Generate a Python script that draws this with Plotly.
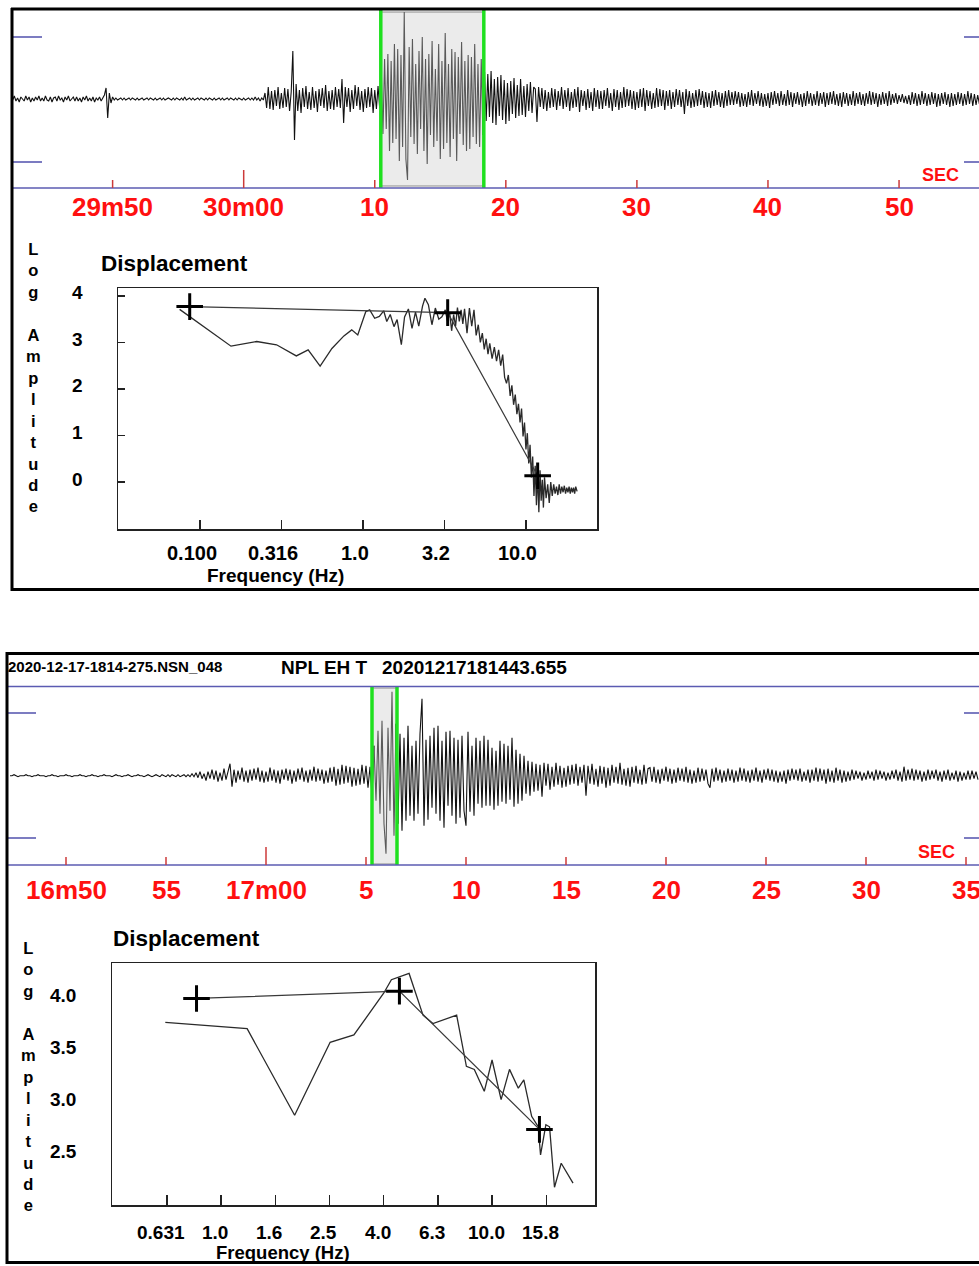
import math
import plotly.graph_objects as go

W, H = 979, 1266
FONT = "Liberation Sans, Arial, sans-serif"

# ---------------- data ----------------
# upper seismogram (time in s relative to 30m00, amplitude in counts)
top_t0 = -17.75
top_dt = 0.125
top_trace = [
    2, -1, 3, -2, 1, -3, 2, 0, -2, 3, -1, 2, -3, 1, -2, 2, -1, 3, -2, 1, -2, 3, -1, -2, 2, -3, 1, 2, -2, 3, -1, 1, -3, 2, -1, 3, -2, 0, 2, -2,
    2, -2, 1, -3, 2, -1, 3, -2, 1, -2, 2, -3, 1, -1, 2, -2, 1, 4, 11, -19, 6, -4, 2, -1, 1, -1, 0, 1, -1, 1, -1, 0, 1, -1, 1, 0, -1, 1, -1, 0,
    1, -1, 0, 1, -1, 1, 0, -1, 1, -1, 0, 1, -1, 1, -1, 0, 1, 0, -1, 1, -1, 1, 0, -1, 1, -1, 2, -1, 0, 1, -1, 1, -1, 0, 1, -1, 1, 0, -1, 1,
    -1, 1, 0, -1, 1, -1, 0, 1, -1, 1, -1, 0, 1, -1, 1, 0, -1, 1, -1, 1, 0, -1, 1, -1, 0, 1, -1, 1, -1, 2, -1, 1, -2, 1, -1, 6, -9, 12, -10, 8,
    -11, 9, -7, 12, -10, 6, -9, 11, -8, 10, -12, 7, 48, -41, 15, -12, 9, -14, 11, -8, 13, -10, 7, -11, 12, -9, 8, -13, 10, -7, 11, -9, 14, -12, 8, -10, 9, -11, 12, -8,
    10, -9, 20, -24, 12, -8, 11, -13, 9, -10, 14, -7, 12, -11, 8, -13, 10, -9, 12, -8, 11, -14, 9, -10, 13, -9, 28, -35, 40, -30, 45, -52, 38, -44, 55, -40, 50, -62, 44, -48,
    87, -60, -81, 52, -38, 60, -45, 35, -55, 48, -30, 62, -52, 40, -65, 45, -36, 58, -48, 30, -42, 55, -60, 38, -50, 66, -44, 35, -58, 50, -40, 47, -62, 42, -35, 57, -46, 38, -52, 44,
    -50, 42, -38, 55, -45, 35, -48, 40, -36, 27, -22, 25, -18, 28, -24, 20, -26, 22, -17, 24, -21, 19, -25, 16, -22, 18, -15, 21, -19, 14, -17, 20, -16, 13, -18, 15, -12, 17, -14, 12,
    10, -23, 12, -8, 11, -10, 9, -12, 7, -9, 11, -8, 10, -11, 8, -7, 12, -10, 9, -8, 11, -12, 7, -9, 10, -8, 12, -13, 9, -7, 8, -11, 10, -9, 7, -12, 11, -8, 9, -10,
    8, -10, 9, -7, 11, -9, 6, -12, 10, -8, 9, -11, 7, -9, 12, -8, 10, -7, 9, -10, 8, -11, 7, -9, 10, -8, 11, -12, 9, -7, 8, -10, 6, -9, 11, -8, 10, -7, 9, -11,
    8, -7, 9, -10, 7, -8, 10, -6, 9, -8, 7, -15, 10, -7, 8, -9, 6, -8, 9, -7, 10, -6, 8, -9, 7, -8, 6, -9, 8, -7, 9, -6, 7, -8, 6, -9, 8, -7, 9, -6,
    7, -6, 8, -5, 7, -8, 6, -7, 5, -8, 7, -6, 9, -7, 6, -5, 8, -7, 6, -8, 5, -7, 6, -9, 7, -6, 8, -5, 6, -7, 8, -6, 5, -7, 9, -6, 7, -8, 6, -5,
    7, -6, 5, -8, 6, -7, 8, -5, 6, -7, 5, -6, 8, -7, 6, -5, 7, -8, 6, -6, 7, -5, 8, -6, 5, -7, 6, -8, 7, -5, 6, -7, 5, -6, 8, -7, 6, -5, 7, -6,
    5, -7, 6, -5, 8, -6, 7, -5, 6, -8, 5, -6, 7, -5, 6, -7, 8, -6, 5, -4, 6, -5, 4, -3, 5, -4, 3, -5, 4, -6, 7, -5, 6, -7, 5, -6, 8, -5, 6, -7,
    5, -6, 7, -5, 6, -8, 5, -7, 6, -5, 7, -6, 5, -8, 6, -7, 5, -6, 7, -5, 6, -7, 5, -6, 8, -5, 6, -7, 5, -6, 4, -5,
]
top_window = [10.46, 18.32]
top_tick_vals = [-10, 0, 10, 20, 30, 40, 50]
top_tick_text = ["29m50", "30m00", "10", "20", "30", "40", "50"]

# lower seismogram (time in s relative to 17m00)
bot_t0 = -12.8
bot_dt = 0.1
bot_trace = [
    0, 0, 1, 0, -1, 0, 0, 0, 1, 0, 0, -1, 0, 0, 1, 0, 0, 0, -1, 0, 0, 1, 0, 0, -1, 0, 0, 0, 1, 0, 0, -1, 0, 0, 0, 1, 0, 0, -1, 0,
    0, 1, 0, 0, -1, 0, 0, 1, 0, 0, 0, -1, 0, 1, 0, 0, -1, 0, 0, 1, 0, -1, 0, 0, 1, 0, 0, -1, 0, 1, 0, -1, 0, 1, 0, -1, 1, 0, -1, 1,
    -1, 1, 0, -1, 1, -1, 0, 1, -1, 1, -1, 2, -1, 3, -2, 4, -3, 2, -5, 4, -3, 6, -4, 5, -6, 3, -5, 7, -4, 5, 12, -11, 6, -7, 5, -4, 8, -6, 5, -7,
    6, -5, 7, -4, 8, -6, 5, -7, 4, -6, 8, -5, 6, -7, 5, -8, 6, -4, 7, -5, 6, -8, 5, -6, 7, -4, 8, -6, 5, -7, 6, -5, 9, -6, 7, -5, 6, -8, 5, -7,
    8, -6, 9, -10, 7, -9, 11, -8, 10, -7, 9, -11, 8, -10, 7, -9, 11, -8, 10, -12, 9, -20, 30, -25, 45, -38, 55, -48, -78, 48, -35, 84, -60, 52, -48, 42, -55, 38, -45, 50,
    -40, 30, -45, 35, -38, 42, 77, -50, 36, -44, 40, -32, 48, -38, 50, -45, 35, -52, 44, -30, 45, -40, 38, -48, 36, -42, 40, -35, -50, 44, -36, 30, -40, 38, -28, 35, -32, 40, -30, 36,
    -30, 28, -34, 25, -30, 35, -26, 32, -28, 30, -24, 38, -31, 26, -28, 22, -25, 20, -18, 15, -20, 14, -16, 12, -15, 11, -21, 13, -10, 12, -14, 9, -11, 13, -9, 10, -12, 8, -11, 10,
    -9, 11, -8, 12, -10, 9, -7, 11, -20, 10, -8, 12, -9, 7, -11, 10, -8, 9, -12, 8, -10, 11, -7, 9, -8, 13, -9, 7, -10, 8, -11, 9, -7, 10, -8, 6, -9, 11, -8, 7,
    8, -6, 9, -7, 6, -8, 7, -5, 9, -6, 7, -8, 6, -7, 8, -5, 7, -6, 9, -7, 6, -8, 5, -7, 8, -6, 7, -5, 6, -8, -12, 7, -6, 8, -5, 6, -7, 5, -6, 7,
    -5, 6, -7, 5, -6, 8, -5, 7, -6, 5, -7, 6, -5, 8, -6, 5, -7, 6, -4, 7, -5, 6, -6, 5, -7, 4, -6, 5, -8, 6, -5, 7, -4, 6, -5, 7, -6, 4, -5, 6,
    -7, 6, -5, 8, -6, 7, -5, 6, -8, 7, -6, 5, -7, 8, -5, 6, -7, 5, -6, 4, -5, 6, -4, 5, -3, 4, -5, 3, -4, 5, -3, 4, -5, 6, -4, 5, -3, 4, -5, 3,
    -4, 5, -3, 6, -5, 4, -6, 9, -5, 6, -4, 7, -5, 6, -4, 5, -6, 4, -5, 6, -4, 5, -3, 6, -5, 4, -6, 5, -4, 6, -5, 3, -4, 5, -6, 4, -5, 3, -4, 5,
    -4, 5, -3, 4, -4,
]
bot_window = [5.3, 6.55]
bot_tick_vals = [-10, -5, 0, 5, 10, 15, 20, 25, 30, 35]
bot_tick_text = ["16m50", "55", "17m00", "5", "10", "15", "20", "25", "30", "35"]

# upper displacement spectrum
spec1_freq = [
    0.075, 0.155, 0.223, 0.295, 0.39, 0.461, 0.546, 0.645, 0.764, 0.853, 0.929,
    1.04, 1.10, 1.18, 1.26, 1.34, 1.40, 1.47, 1.55, 1.62, 1.72, 1.80, 1.90,
    2.00, 2.10, 2.20, 2.32, 2.40, 2.52, 2.65, 2.78, 2.92, 3.05, 3.20, 3.30,
    3.40, 3.50, 3.60, 3.70, 3.80, 3.90, 4.00, 4.10, 4.20, 4.35, 4.50, 4.65,
    4.80, 4.95, 5.10, 5.25, 5.40, 5.55, 5.70, 5.85, 6.00, 6.20, 6.40, 6.60,
    6.80, 7.00, 7.20, 7.40, 7.60, 7.80, 8.00, 8.20, 8.40, 8.60, 8.80, 9.00,
    9.20, 9.40, 9.60, 9.80, 10.0, 10.2, 10.4, 10.6, 10.8, 11.0, 11.2, 11.4,
    11.6, 11.8, 12.0, 12.2, 12.4, 12.6, 12.8, 13.0, 13.3, 13.6, 13.9, 14.2,
    14.5, 14.8, 15.1, 15.4, 15.7, 16.0, 16.3, 16.6, 16.9, 17.2, 17.5, 17.8,
    18.1, 18.4, 18.7, 19.0, 19.3, 19.6, 19.9, 20.2, 20.6,
]
spec1_amp = [
    3.71, 2.92, 3.02, 2.95, 2.71, 2.84, 2.49, 2.87, 3.14, 3.27, 3.16,
    3.66, 3.70, 3.52, 3.56, 3.68, 3.45, 3.60, 3.34, 3.49, 2.95, 3.55, 3.72,
    3.30, 3.65, 3.35, 3.78, 3.95, 3.81, 3.38, 3.74, 3.50, 3.55, 3.70, 3.45,
    3.65, 3.25, 3.60, 3.35, 3.75, 3.45, 3.70, 3.40, 3.72, 3.20, 3.74, 3.35,
    3.70, 3.15, 3.38, 3.00, 3.20, 2.85, 3.08, 2.75, 2.98, 2.65, 2.90, 2.60,
    2.84, 2.50, 2.74, 2.25, 2.12, 2.30, 1.85, 2.08, 1.66, 1.88, 1.46, 1.68,
    1.28, 1.58, 0.98, 1.28, 0.70, 1.05, 0.40, 0.80, 0.10, 0.55, -0.30, 0.35,
    -0.50, 0.20, -0.65, 0.25, -0.40, 0.05, -0.55, 0.10, -0.35, -0.05, -0.45, 0.00,
    -0.30, -0.05, -0.25, -0.10, -0.28, -0.05, -0.25, -0.10, -0.22, -0.08, -0.25, -0.12,
    -0.22, -0.10, -0.25, -0.12, -0.22, -0.12, -0.25, -0.10, -0.20,
]
spec1_fit_freq = [0.0865, 3.31, 11.8]
spec1_fit_amp = [3.77, 3.64, 0.135]
spec1_xticks = [0.1, 0.316, 1.0, 3.16, 10.0]
spec1_xtick_text = ["0.100", "0.316", "1.0", "3.2", "10.0"]
spec1_yticks = [0, 1, 2, 3, 4]

# lower displacement spectrum
spec2_freq = [0.622, 1.247, 1.867, 2.525, 3.09, 3.65, 3.98, 4.25, 4.55, 4.94, 5.56,
              6.05, 7.40, 8.04, 8.60, 9.36, 10.0, 10.8, 11.6, 12.5, 13.1, 14.0,
              14.8, 15.1, 15.8, 16.3, 17.0, 18.0, 19.9]
spec2_amp = [3.74, 3.68, 2.85, 3.55, 3.62, 3.88, 4.02, 4.15, 4.18, 4.21, 3.81,
             3.73, 3.81, 3.32, 3.29, 3.08, 3.38, 3.00, 3.29, 3.11, 3.19, 2.84,
             2.74, 2.47, 2.76, 2.74, 2.16, 2.39, 2.20]
spec2_fit_freq = [0.811, 4.55, 14.96]
spec2_fit_amp = [3.97, 4.04, 2.715]
spec2_xticks = [0.631, 1.0, 1.585, 2.512, 3.981, 6.31, 10.0, 15.85]
spec2_xtick_text = ["0.631", "1.0", "1.6", "2.5", "4.0", "6.3", "10.0", "15.8"]
spec2_yticks = [2.5, 3.0, 3.5, 4.0]
spec2_ytick_text = ["2.5", "3.0", "3.5", "4.0"]

station_file = "2020-12-17-1814-275.NSN_048"
station_chan = "NPL EH T"
station_time = "20201217181443.655"


# ---------------- helpers ----------------
def px(x):
    return x / W


def py(y):
    return 1 - y / H


BLUE = "#5b5bb2"
GREEN = "#1fe01f"
RED_TICK = "#cc3a3a"
RED = "#ff1010"

fig = go.Figure()
shapes = []
annotations = []


def ann(text, x, y, size, color="black", xref="paper", yref="paper",
        xanchor="center", yanchor="middle", **kw):
    annotations.append(dict(text=text, x=x, y=y, xref=xref, yref=yref,
                            showarrow=False, xanchor=xanchor, yanchor=yanchor,
                            font=dict(family=FONT, size=size, color=color), **kw))


def hline(y, x0, x1, color, width):
    shapes.append(dict(type="line", xref="paper", yref="paper", x0=px(x0), x1=px(x1),
                       y0=py(y), y1=py(y), line=dict(color=color, width=width)))


def vline(x, y0, y1, color, width):
    shapes.append(dict(type="line", xref="paper", yref="paper", x0=px(x), x1=px(x),
                       y0=py(y0), y1=py(y1), line=dict(color=color, width=width)))


def add_seismo(values, t0, dt, window, xa, ya):
    times = [t0 + dt * i for i in range(len(values))]
    pre = [(t, v) for t, v in zip(times, values) if t <= window[0] + dt]
    win = [(t, v) for t, v in zip(times, values) if window[0] - dt <= t <= window[1] + dt]
    post = [(t, v) for t, v in zip(times, values) if t >= window[1] - dt]
    for seg, col in ((pre, "#111111"), (win, "#5a5a5a"), (post, "#111111")):
        fig.add_trace(go.Scatter(x=[s[0] for s in seg], y=[s[1] for s in seg],
                                 mode="lines", line=dict(color=col, width=1.1),
                                 xaxis=xa, yaxis=ya, showlegend=False, hoverinfo="skip"))


# ---------------- seismograms ----------------
add_seismo(top_trace, top_t0, top_dt, top_window, "x", "y")
add_seismo(bot_trace, bot_t0, bot_dt, bot_window, "x4", "y4")

# ---------------- spectra ----------------
for freq, amp, ffreq, famp, xa, ya in (
        (spec1_freq, spec1_amp, spec1_fit_freq, spec1_fit_amp, "x2", "y2"),
        (spec2_freq, spec2_amp, spec2_fit_freq, spec2_fit_amp, "x3", "y3")):
    fig.add_trace(go.Scatter(x=freq, y=amp, mode="lines",
                             line=dict(color="#2a2a2a", width=1.3),
                             xaxis=xa, yaxis=ya, showlegend=False, hoverinfo="skip"))
    fig.add_trace(go.Scatter(x=ffreq, y=famp, mode="lines",
                             line=dict(color="#3a3a3a", width=1.2),
                             xaxis=xa, yaxis=ya, showlegend=False, hoverinfo="skip"))
    fig.add_trace(go.Scatter(x=ffreq, y=famp, mode="markers",
                             marker=dict(symbol="cross-thin", size=19,
                                         line=dict(color="black", width=3)),
                             xaxis=xa, yaxis=ya, showlegend=False, hoverinfo="skip"))

# ---------------- panel decorations ----------------
for window, xr, yb, yt in ((top_window, "x", 186, 12), (bot_window, "x4", 864, 688)):
    shapes.append(dict(type="rect", xref=xr, yref="paper", x0=window[0], x1=window[1],
                       y0=py(yb), y1=py(yt), fillcolor="#ebebeb",
                       line=dict(color="#8a8a8a", width=1), layer="below"))
for window, xr, yb, yt in ((top_window, "x", 188, 10), (bot_window, "x4", 865, 686)):
    for wx in window:
        shapes.append(dict(type="line", xref=xr, yref="paper", x0=wx, x1=wx,
                           y0=py(yb), y1=py(yt), line=dict(color=GREEN, width=3.5)))

hline(188, 13, 979, BLUE, 1.6)
for yy in (37, 162):
    hline(yy, 13, 42, BLUE, 1.6)
    hline(yy, 964, 979, BLUE, 1.6)
hline(686.5, 8, 979, BLUE, 1.6)
hline(865, 8, 979, BLUE, 1.6)
for yy in (713, 838):
    hline(yy, 8, 36, BLUE, 1.6)
    hline(yy, 964, 979, BLUE, 1.6)

for vals, texts, xr, base, lab_y in ((top_tick_vals, top_tick_text, "x", 188, 207),
                                     (bot_tick_vals, bot_tick_text, "x4", 865, 890)):
    for v, t in zip(vals, texts):
        ln = 18 if "m00" in t else 8
        shapes.append(dict(type="line", xref=xr, yref="paper", x0=v, x1=v,
                           y0=py(base), y1=py(base - ln), line=dict(color=RED_TICK, width=1.5)))
        ann(f"<b>{t}</b>", v, py(lab_y), 26, RED, xref=xr)
ann("<b>SEC</b>", px(940), py(175), 18, RED)
ann("<b>SEC</b>", px(936), py(852), 18, RED)

ann(f"<b>{station_file}</b>", px(6), py(666), 15, xanchor="left")
ann(f"<b>{station_chan}</b>", px(279), py(667), 19, xanchor="left")
ann(f"<b>{station_time}</b>", px(380), py(667), 19, xanchor="left")

hline(9, 11, 979, "black", 3)
vline(12, 8, 591, "black", 3)
hline(589.5, 11, 979, "black", 3)
hline(653.5, 6, 979, "black", 3)
vline(7, 652, 1264, "black", 3)
hline(1262.5, 6, 979, "black", 3)

vert = "<br>".join(list("Log") + [""] + list("Amplitude"))
ann(f"<b>{vert}</b>", px(33), py(378), 16.5)
ann(f"<b>{vert}</b>", px(28), py(1076), 16.5)
ann("<b>Displacement</b>", px(99), py(264), 22.5, xanchor="left")
ann("<b>Displacement</b>", px(111), py(938), 22.5, xanchor="left")
ann("<b>Frequency (Hz)</b>", px(275), py(575), 19)
ann("<b>Frequency (Hz)</b>", px(283), py(1252), 18.5)

for v in spec1_yticks:
    ann(f"<b>{v}</b>", px(77), v, 19, yref="y2", yshift=3)
for v, t in zip(spec1_xticks, spec1_xtick_text):
    ann(f"<b>{t}</b>", math.log10(v), py(553), 20, xref="x2", xshift=-8)
for v, t in zip(spec2_yticks, spec2_ytick_text):
    ann(f"<b>{t}</b>", px(63), v, 19, yref="y3")
for v, t in zip(spec2_xticks, spec2_xtick_text):
    ann(f"<b>{t}</b>", math.log10(v), py(1232), 19, xref="x3", xshift=-6)

hidden = dict(showgrid=False, zeroline=False, showticklabels=False, showline=False, ticks="")
box = dict(showgrid=False, zeroline=False, showticklabels=False, showline=True,
           mirror=True, linecolor="#222222", linewidth=1.5, ticks="inside",
           tickcolor="#222222", tickwidth=1.5)

fig.update_layout(
    width=W, height=H, margin=dict(l=0, r=0, t=0, b=0),
    paper_bgcolor="white", plot_bgcolor="rgba(0,0,0,0)",
    showlegend=False,
    xaxis=dict(domain=[px(13), 1], range=[-17.6, 56.1], anchor="y", **hidden),
    yaxis=dict(domain=[py(188), py(12)], range=[-89, 87], anchor="x", **hidden),
    xaxis4=dict(domain=[px(8), 1], range=[-12.9, 35.65], anchor="y4", **hidden),
    yaxis4=dict(domain=[py(865), py(686)], range=[-89.3, 89.7], anchor="x4", **hidden),
    xaxis2=dict(domain=[px(118), px(597)], type="log", range=[-1.503, 1.436],
                anchor="y2", tickvals=spec1_xticks, ticklen=9, **box),
    yaxis2=dict(domain=[py(529), py(288)], range=[-1.01, 4.17], anchor="x2",
                tickvals=spec1_yticks, ticklen=7, **box),
    xaxis3=dict(domain=[px(112), px(595)], type="log", range=[-0.403, 1.380],
                anchor="y3", tickvals=spec2_xticks, ticklen=10, **box),
    yaxis3=dict(domain=[py(1205), py(963)], range=[1.99, 4.31], anchor="x3",
                tickvals=spec2_yticks, ticklen=0, **box),
    shapes=shapes, annotations=annotations,
)

fig.write_html("out.html",
               config={"displayModeBar": False, "staticPlot": True},
               post_script="document.body.style.margin='0px';"
                           "document.body.style.overflow='hidden';")
